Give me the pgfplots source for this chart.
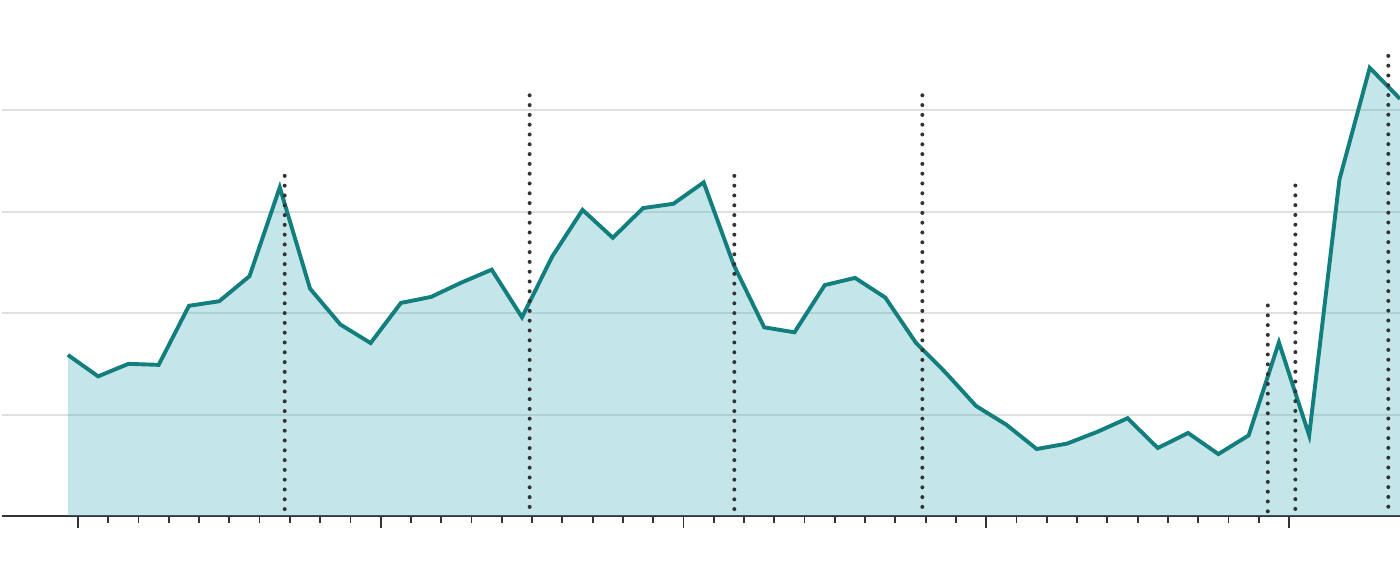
\documentclass[border=0pt]{standalone}
\usepackage{pgfplots}
\pgfplotsset{compat=1.18}
\definecolor{teal1}{RGB}{18,126,126}
\definecolor{fillc}{RGB}{62,172,178}
\definecolor{axc}{RGB}{51,51,51}
\definecolor{gridc}{RGB}{224,224,224}
\pgfplotstableread{
x y
-0.333 1.587
0.667 1.376
1.667 1.499
2.667 1.489
3.667 2.071
4.667 2.116
5.667 2.363
6.667 3.238
7.667 2.240
8.667 1.887
9.667 1.704
10.667 2.099
11.667 2.159
12.667 2.300
13.667 2.427
14.667 1.958
15.667 2.557
16.667 3.016
17.667 2.741
18.667 3.034
19.667 3.076
20.667 3.287
21.667 2.469
22.667 1.859
23.667 1.810
24.667 2.275
25.667 2.346
26.667 2.152
27.667 1.711
28.667 1.410
29.667 1.083
30.667 0.899
31.667 0.660
32.667 0.713
33.667 0.829
34.667 0.963
35.667 0.670
36.667 0.818
37.667 0.610
38.667 0.794
39.667 1.711
40.667 0.794
41.667 3.316
42.667 4.416
43.667 4.110
}\datatable
\begin{document}
\begin{tikzpicture}
\begin{axis}[
  scale only axis,
  width=699bp, height=258bp,
  xmin=-2.508, xmax=43.667,
  ymin=0, ymax=5.084,
  clip=false,
  axis x line*=bottom,
  axis y line*=left,
  y axis line style={draw=none},
  x axis line style={axc, line width=1bp},
  xtick={0,10,20,30,40},
  minor x tick num=9,
  xticklabels={},
  ytick={1,2,3,4},
  yticklabels={},
  ytick style={draw=none},
  tick align=outside,
  major tick length=6bp,
  minor tick length=3.5bp,
  xtick style={axc, line width=0.9bp},
  minor x tick style={axc, line width=0.9bp},
  ymajorgrids,
  grid style={gridc, line width=1bp},
]
\coordinate (bl) at (rel axis cs:0,0);
\coordinate (tr) at (rel axis cs:1,1);
\addplot[draw=none, fill=fillc, fill opacity=0.3] table[x=x,y=y]{\datatable} \closedcycle;
\addplot[teal1, line width=1.95bp, line join=miter] table[x=x,y=y]{\datatable};
\pgfplotsset{dotline/.style={axc, line width=2bp, line cap=round, dash pattern=on 0bp off 4.9bp}}
\addplot[dotline] coordinates {(6.83,3.351) (6.83,0)};
\addplot[dotline] coordinates {(14.92,4.145) (14.92,0)};
\addplot[dotline] coordinates {(21.68,3.351) (21.68,0)};
\addplot[dotline] coordinates {(27.89,4.145) (27.89,0)};
\addplot[dotline] coordinates {(39.30,2.074) (39.30,0)};
\addplot[dotline] coordinates {(40.21,3.256) (40.21,0)};
\addplot[dotline] coordinates {(43.28,4.533) (43.28,0)};
\end{axis}
\pgfresetboundingbox
\path (bl) ++(-1bp,-23bp) rectangle (tr);
\end{tikzpicture}
\end{document}
